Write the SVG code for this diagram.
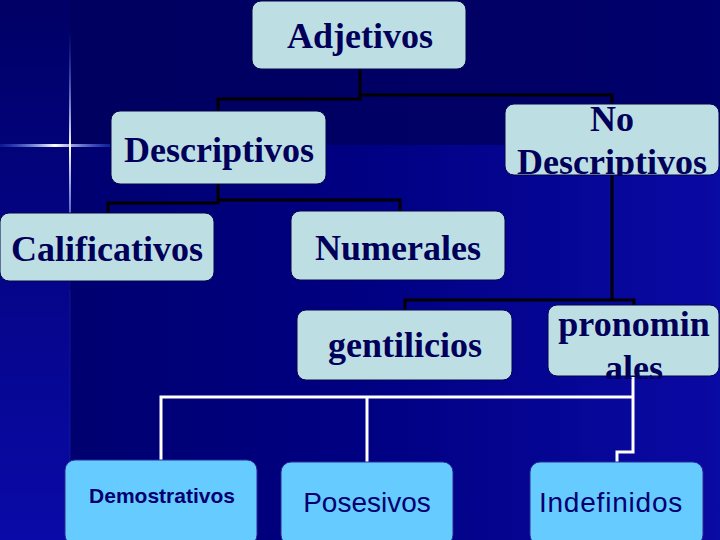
<svg xmlns="http://www.w3.org/2000/svg" width="720" height="540" viewBox="0 0 720 540">
<defs>
<linearGradient id="bgMain" x1="0" y1="0" x2="1" y2="0">
<stop offset="0" stop-color="#00006c"/>
<stop offset="0.5" stop-color="#000082"/>
<stop offset="1" stop-color="#0a0aa4"/>
</linearGradient>
<linearGradient id="bgTop" x1="0" y1="0" x2="1" y2="0">
<stop offset="0" stop-color="#000060"/>
<stop offset="0.7" stop-color="#000066"/>
<stop offset="1" stop-color="#00006e"/>
</linearGradient>
<linearGradient id="bgLeft" x1="0" y1="0" x2="0" y2="1">
<stop offset="0" stop-color="#000066"/>
<stop offset="0.35" stop-color="#03037e"/>
<stop offset="1" stop-color="#0a0aa8"/>
</linearGradient>
<linearGradient id="starH" x1="0" y1="0" x2="1" y2="0">
<stop offset="0" stop-color="#3a6cff" stop-opacity="0.2"/>
<stop offset="0.5" stop-color="#ffffff" stop-opacity="1"/>
<stop offset="1" stop-color="#3a6cff" stop-opacity="0.3"/>
</linearGradient>
<linearGradient id="starV" x1="0" y1="0" x2="0" y2="1">
<stop offset="0" stop-color="#3a6cff" stop-opacity="0"/>
<stop offset="0.45" stop-color="#ffffff" stop-opacity="1"/>
<stop offset="1" stop-color="#3a6cff" stop-opacity="0"/>
</linearGradient>
<clipPath id="clipNoD"><rect x="505" y="104" width="215" height="72"/></clipPath>
<clipPath id="clipPro"><rect x="547" y="305" width="173" height="74"/></clipPath>
</defs>
<style>
.lt{fill:#bddfe4;stroke:#05054a;stroke-width:1}
.bl{fill:#66ccff;stroke:#2a2a9a;stroke-width:1}
.ser{font-family:"Liberation Serif","Times New Roman",serif;font-weight:bold;font-size:36px;fill:#00005a;text-anchor:middle}
.san{font-family:"Liberation Sans",Arial,sans-serif;font-size:28px;fill:#000070;text-anchor:middle}
.blk{fill:none;stroke:#000000;stroke-width:3}
.wht{fill:none;stroke:#ffffff;stroke-width:3}
</style>
<g id="background">
<rect x="0" y="0" width="720" height="540" fill="url(#bgMain)"/>
<rect x="70" y="0" width="650" height="145" fill="url(#bgTop)"/>
<rect x="0" y="0" width="70" height="540" fill="url(#bgLeft)"/>
<rect x="0" y="144" width="110" height="3" fill="url(#starH)"/>
<rect x="69" y="30" width="2" height="260" fill="url(#starV)"/>
<rect x="69.5" y="290" width="1" height="250" fill="#2a40c0" opacity="0.35"/>
</g>
<g id="connectors">
<polyline class="blk" points="360,69 360,99 218,99 218,111"/>
<polyline class="blk" points="360,95 612,95 612,105"/>
<polyline class="blk" points="218,184 218,203 108,203 108,213"/>
<polyline class="blk" points="218,200 400,200 400,211"/>
<polyline class="blk" points="612,175 612,300"/>
<polyline class="blk" points="405,310 405,300 634,300 634,305"/>
<polyline class="wht" points="633,377 633,452 617,452 617,462"/>
<polyline class="wht" points="161,460 161,397 633,397"/>
<polyline class="wht" points="367,397 367,462"/>
</g>
<g id="node-adjetivos">
<rect class="lt" x="252" y="1" width="214" height="68" rx="9"/>
<text class="ser" x="360" y="48">Adjetivos</text>
</g>
<g id="node-descriptivos">
<rect class="lt" x="111" y="111" width="215" height="73" rx="9"/>
<text class="ser" x="219" y="162">Descriptivos</text>
</g>
<g id="node-nodescriptivos">
<rect class="lt" x="505" y="104" width="214" height="71" rx="9"/>
<g clip-path="url(#clipNoD)">
<text class="ser" x="612" y="131">No</text>
<text class="ser" x="612" y="174">Descriptivos</text>
</g>
</g>
<g id="node-calificativos">
<rect class="lt" x="0" y="213" width="214" height="68" rx="9"/>
<text class="ser" x="107" y="261">Calificativos</text>
</g>
<g id="node-numerales">
<rect class="lt" x="291" y="211" width="214" height="69" rx="9"/>
<text class="ser" x="398" y="260">Numerales</text>
</g>
<g id="node-gentilicios">
<rect class="lt" x="297" y="310" width="215" height="70" rx="9"/>
<text class="ser" x="405" y="357">gentilicios</text>
</g>
<g id="node-pronominales">
<rect class="lt" x="548" y="305" width="171" height="71" rx="9"/>
<g clip-path="url(#clipPro)">
<text class="ser" x="634" y="336">pronomin</text>
<text class="ser" x="634" y="380">ales</text>
</g>
</g>
<g id="node-demostrativos">
<rect class="bl" x="65" y="460" width="192" height="85" rx="10"/>
<text class="san" x="162" y="503" style="font-size:21px;font-weight:bold">Demostrativos</text>
</g>
<g id="node-posesivos">
<rect class="bl" x="281" y="462" width="172" height="83" rx="10"/>
<text class="san" x="367" y="512">Posesivos</text>
</g>
<g id="node-indefinidos">
<rect class="bl" x="530" y="462" width="173" height="83" rx="10"/>
<text class="san" x="611" y="512" style="letter-spacing:0.8px">Indefinidos</text>
</g>
</svg>
